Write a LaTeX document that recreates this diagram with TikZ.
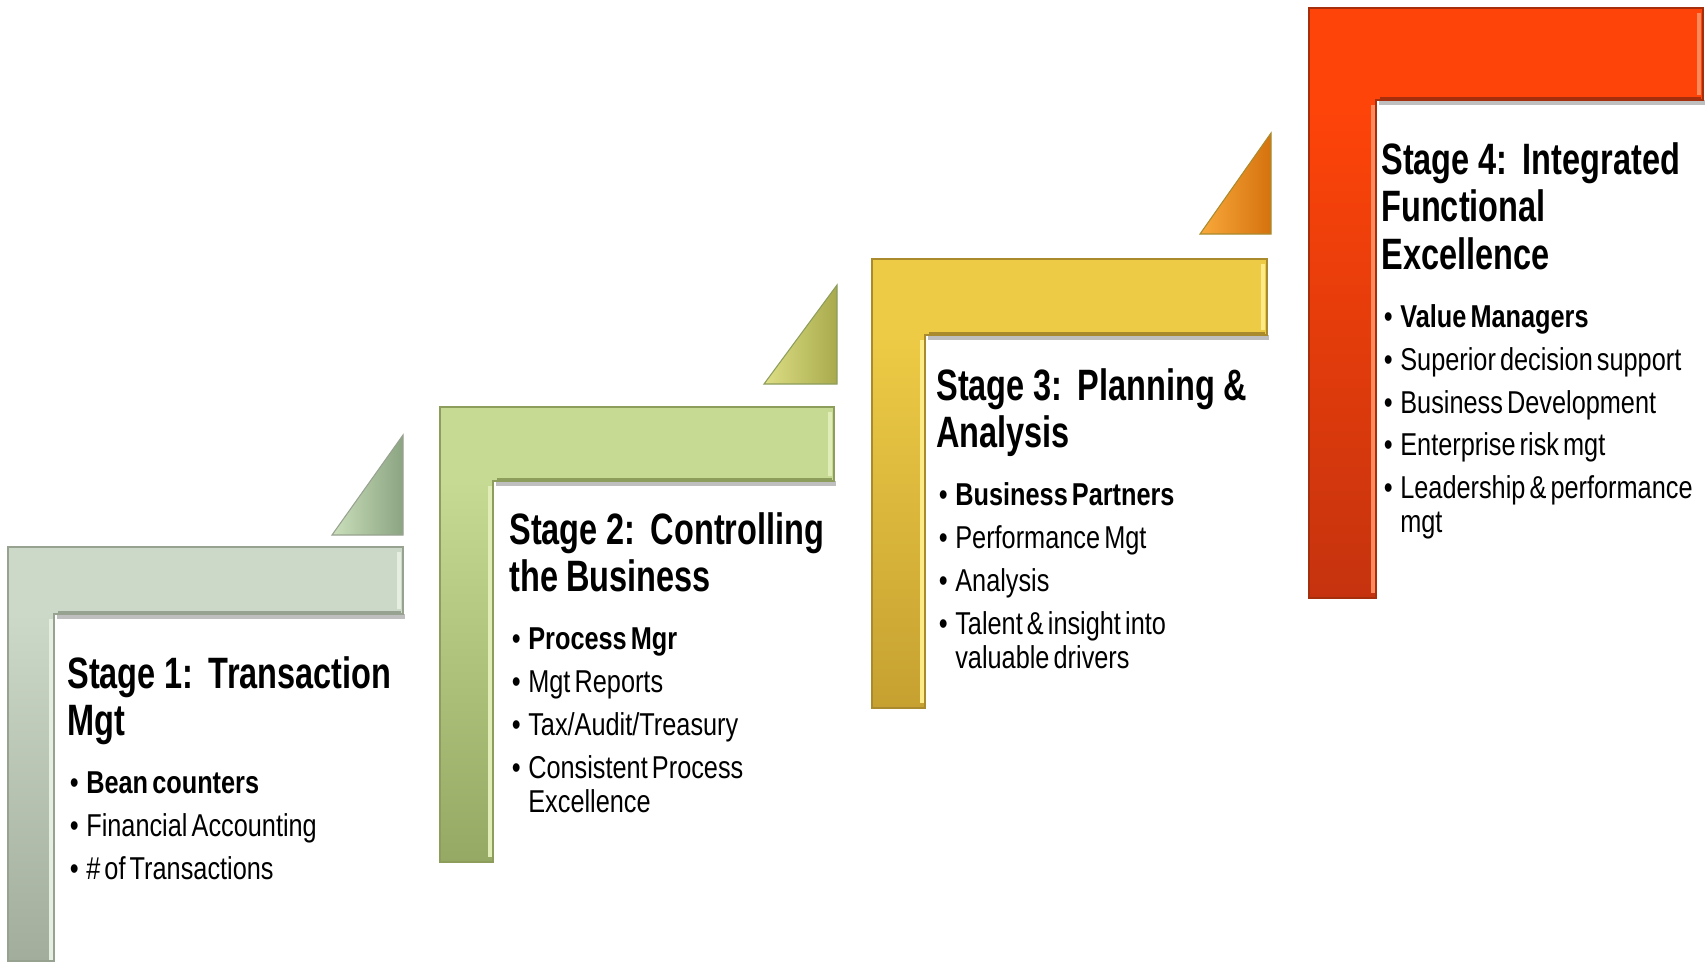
\documentclass[tikz,border=0pt]{standalone}
\usepackage{fontspec}
\setmainfont[FakeStretch=0.8]{Liberation Sans}
\newfontfamily\titlefont[FakeStretch=0.74]{Liberation Sans}
\usepackage{tikz}

\definecolor{sagemain}{HTML}{CDD9C8}
\definecolor{sagedark}{HTML}{A2AD9C}
\definecolor{sagelight}{HTML}{E6EEE2}
\definecolor{sageedge}{HTML}{97A290}
\definecolor{sagetri}{HTML}{CBDFBB}
\definecolor{sagetridark}{HTML}{8BA482}
\definecolor{limemain}{HTML}{C7DA93}
\definecolor{limedark}{HTML}{96A964}
\definecolor{limelight}{HTML}{E0EDB6}
\definecolor{limeedge}{HTML}{8C9D5C}
\definecolor{limetri}{HTML}{DEDF86}
\definecolor{limetridark}{HTML}{A8AA4C}
\definecolor{goldmain}{HTML}{EDCB45}
\definecolor{golddark}{HTML}{C6A131}
\definecolor{goldlight}{HTML}{FCEB86}
\definecolor{goldedge}{HTML}{A98A2D}
\definecolor{goldtri}{HTML}{F9A93B}
\definecolor{goldtridark}{HTML}{D5720E}
\definecolor{redmain}{HTML}{FF4409}
\definecolor{reddark}{HTML}{C5330E}
\definecolor{redlight}{HTML}{FF8B5C}
\definecolor{rededge}{HTML}{A52F0C}

\tikzstyle{Shadow}=[fill=black!45, opacity=0.55]
\tikzstyle{Edge}=[line width=0.6pt]
\tikzstyle{Shine}=[line width=2.2pt]
\tikzstyle{Rim}=[line width=1.6pt]
\tikzstyle{StageText}=[anchor=base west, inner sep=0, text width=240pt, font=\fontsize{18}{19.3}\selectfont]

\newcommand{\stagetitle}[1]{{\titlefont\bfseries\fontsize{25}{27.2}\selectfont\spaceskip=0.19em plus 0.05em\relax #1\par}\vskip8.5pt\spaceskip=0.13em plus 0.05em\relax}
\newcommand{\bitem}[1]{\par\vskip5.1pt\hangindent=10.8pt\hangafter=1\noindent\makebox[10.8pt][l]{\hspace{1.5pt}\textbullet}#1}
\newcommand{\wrapline}{\hfil\break}

\begin{document}
\begin{tikzpicture}[x=0.02cm, y=-0.02cm]
    \useasboundingbox (0,0) rectangle (1705,961);
    \fill[white] (0,0) rectangle (1705,961);

    % stage 1
    \fill[Shadow] (57,614) rectangle (405,619);
    \fill[sagemain] (8,547) -- (403,547) -- (403,614) -- (54,614) -- (54,961) -- (8,961) -- cycle;
    \shade[top color=sagemain, bottom color=sagedark] (8,614) rectangle (54,961);
    \draw[sagelight, Shine] (399,552) -- (399,609);
    \draw[sagelight, Shine] (51,619) -- (51,961);
    \draw[sageedge, Rim] (58,612) -- (401,612);
    \draw[sageedge, Edge] (8,547) -- (403,547) -- (403,614) -- (54,614) -- (54,961) -- (8,961) -- cycle;
    \shade[left color=sagetri, right color=sagetridark] (332,535) -- (403,435) -- (403,535) -- cycle;
    \draw[sageedge, Edge] (332,535) -- (403,435) -- (403,535) -- cycle;

    % stage 2
    \fill[Shadow] (496,481) rectangle (836,486);
    \fill[limemain] (440,407) -- (834,407) -- (834,481) -- (493,481) -- (493,862) -- (440,862) -- cycle;
    \shade[top color=limemain, bottom color=limedark] (440,481) rectangle (493,862);
    \draw[limelight, Shine] (830,412) -- (830,476);
    \draw[limelight, Shine] (490,486) -- (490,857);
    \draw[limeedge, Rim] (497,479) -- (832,479);
    \draw[limeedge, Edge] (440,407) -- (834,407) -- (834,481) -- (493,481) -- (493,862) -- (440,862) -- cycle;
    \shade[left color=limetri, right color=limetridark] (764,384) -- (837,285) -- (837,384) -- cycle;
    \draw[limeedge, Edge] (764,384) -- (837,285) -- (837,384) -- cycle;

    % stage 3
    \fill[Shadow] (928,335) rectangle (1269,340);
    \fill[goldmain] (872,259) -- (1267,259) -- (1267,335) -- (925,335) -- (925,708) -- (872,708) -- cycle;
    \shade[top color=goldmain, bottom color=golddark] (872,335) rectangle (925,708);
    \draw[goldlight, Shine] (1263,264) -- (1263,330);
    \draw[goldlight, Shine] (922,340) -- (922,703);
    \draw[goldedge, Rim] (929,333) -- (1265,333);
    \draw[goldedge, Edge] (872,259) -- (1267,259) -- (1267,335) -- (925,335) -- (925,708) -- (872,708) -- cycle;
    \shade[left color=goldtri, right color=goldtridark] (1200,234) -- (1271,133) -- (1271,234) -- cycle;
    \draw[goldedge, Edge] (1200,234) -- (1271,133) -- (1271,234) -- cycle;

    % stage 4
    \fill[Shadow] (1379,100) rectangle (1705,105);
    \fill[redmain] (1309,8) -- (1703,8) -- (1703,100) -- (1376,100) -- (1376,598) -- (1309,598) -- cycle;
    \shade[top color=redmain, bottom color=reddark] (1309,100) rectangle (1376,598);
    \draw[redlight, Shine] (1699,13) -- (1699,95);
    \draw[redlight, Shine] (1373,105) -- (1373,593);
    \draw[rededge, Rim] (1380,98) -- (1701,98);
    \draw[rededge, Edge] (1309,8) -- (1703,8) -- (1703,100) -- (1376,100) -- (1376,598) -- (1309,598) -- cycle;

    \path
    (67,688) node[StageText] (stage1) {\stagetitle{Stage 1: Transaction\\Mgt}%
        \bitem{\textbf{Bean counters}}\bitem{Financial Accounting}\bitem{\# of Transactions}\par}
    (509,544) node[StageText] (stage2) {\stagetitle{Stage 2: Controlling\\the Business}%
        \bitem{\textbf{Process Mgr}}\bitem{Mgt Reports}\bitem{Tax/Audit/Treasury}%
        \bitem{Consistent Process\wrapline Excellence}\par}
    (936,400) node[StageText] (stage3) {\stagetitle{Stage 3: Planning \&\\Analysis}%
        \bitem{\textbf{Business Partners}}\bitem{Performance Mgt}\bitem{Analysis}%
        \bitem{Talent \& insight into\wrapline valuable drivers}\par}
    (1381,174) node[StageText] (stage4) {\stagetitle{Stage 4: Integrated\\Functional\\Excellence}%
        \bitem{\textbf{Value Managers}}\bitem{Superior decision support}%
        \bitem{Business Development}\bitem{Enterprise risk mgt}%
        \bitem{Leadership \& performance\wrapline mgt}\par};
\end{tikzpicture}
\end{document}
